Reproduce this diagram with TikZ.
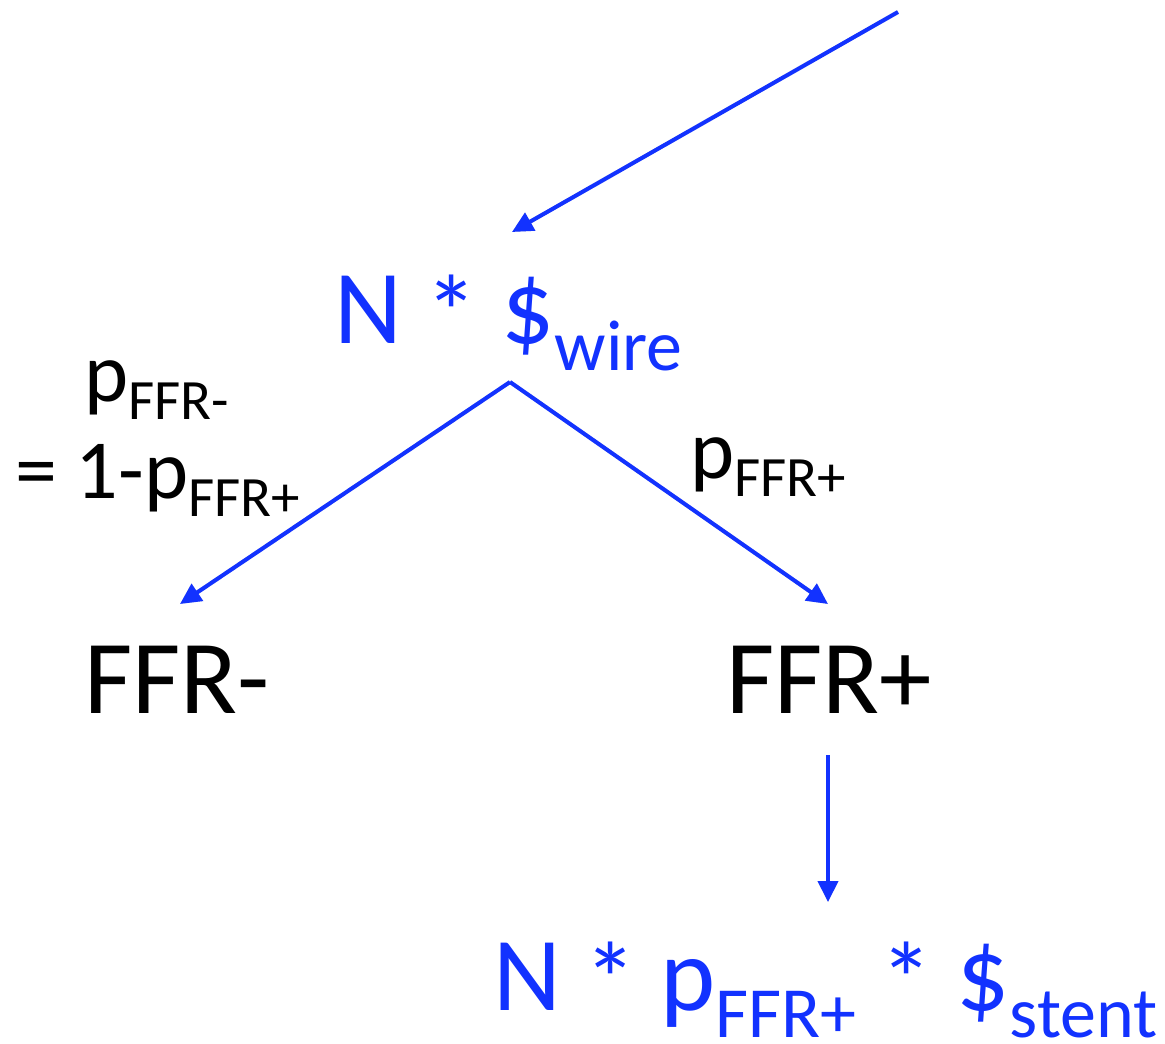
\documentclass[tikz,border=0pt]{standalone}
\usepackage{fontspec}
\setmainfont{Carlito}
\usetikzlibrary{arrows.meta}
\definecolor{pblue}{RGB}{18,50,255}
\newcommand\mainsz{\fontsize{105}{110}\selectfont}
\newcommand\subsz{\fontsize{72}{76}\selectfont}
\newcommand\labsz{\fontsize{84}{88}\selectfont}
\newcommand\labsubsz{\fontsize{57}{60}\selectfont}
\newcommand\msub[1]{\raisebox{-27pt}{\subsz #1}}
\newcommand\lsub[1]{\raisebox{-18pt}{\labsubsz #1}}
\newcommand\mystar{\raisebox{-6pt}{*}}
\tikzset{
  txt/.style={anchor=base west, inner sep=0pt, outer sep=0pt},
  arr/.style={draw=pblue, line width=4pt, -{Triangle[length=21pt,width=20pt]}},
  shad/.style={draw=black!35, opacity=0.35, line width=4pt, -{Triangle[length=21pt,width=20pt]}},
}
\begin{document}
\begin{tikzpicture}[x=1pt,y=-1pt]
\useasboundingbox (0,0) rectangle (1165,1044);
% nodes
\node[txt, text=pblue] (wire) at (334,343) {\mainsz N \mystar{} \$\msub{wire}};
\node[txt] (ffrm) at (84,713) {\mainsz FFR-};
\node[txt] (ffrp) at (726,713) {\mainsz FFR+};
\node[txt, text=pblue] (stent) at (493,1010) {\mainsz N \mystar{} p\msub{FFR+} \mystar{} \$\msub{stent}};
\node[txt] (lab1) at (84,401) {\labsz p\lsub{FFR-}};
\node[txt] (lab2) at (15,498) {\labsz = 1-p\lsub{FFR+}};
\node[txt] (lab3) at (690,478) {\labsz p\lsub{FFR+}};
% connector end points
\coordinate (src) at (898,12);
\coordinate (wireIn) at (512,232);
\coordinate (wireOut) at (510,382);
\coordinate (ffrmIn) at (180,604);
\coordinate (ffrpIn) at (828,604);
\coordinate (ffrpOut) at (828,755);
\coordinate (stentIn) at (828,902);
% shadows
\begin{scope}[shift={(2,4)}]
\draw[shad] (src) -- (wireIn);
\draw[shad] (wireOut) -- (ffrmIn);
\draw[shad] (wireOut) -- (ffrpIn);
\draw[shad] (ffrpOut) -- (stentIn);
\end{scope}
% connectors
\draw[arr] (src) -- (wireIn);
\draw[arr] (wireOut) -- (ffrmIn);
\draw[arr] (wireOut) -- (ffrpIn);
\draw[arr] (ffrpOut) -- (stentIn);
\end{tikzpicture}
\end{document}
